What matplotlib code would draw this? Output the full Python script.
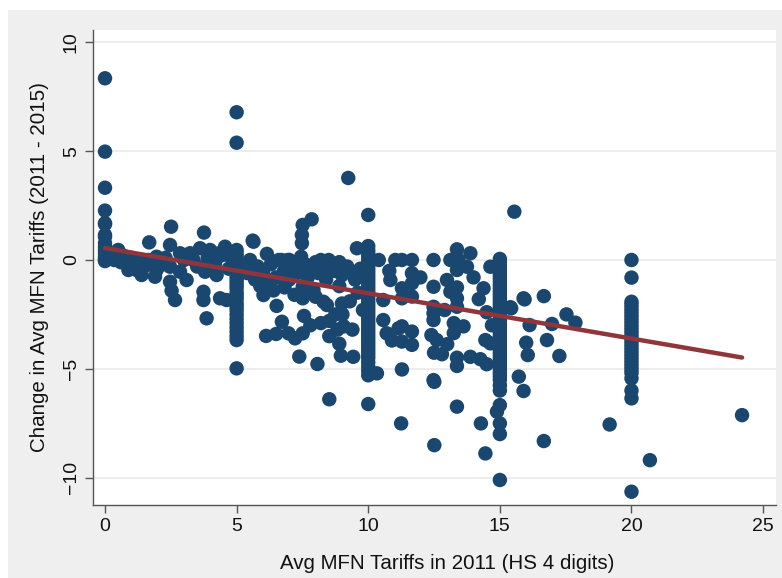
import numpy as np
import matplotlib
matplotlib.use("Agg")
import matplotlib.pyplot as plt
from matplotlib.patches import Rectangle

plt.rcParams['font.family'] = ['Liberation Sans', 'DejaVu Sans']

# vertical stacks of products sitting exactly on common tariff levels
col0_y = [8.35, 4.98, 3.32, 2.27, 1.69, 1.65, 1.15, 1.07, 0.77, 0.6, 0.45, 0.3, 0.15, 0.05, 0.0, -0.05]
col5_y = [6.79, 5.39, 0.46, 0.3, 0.15, 0.0, -0.1, -0.25, -0.4, -0.55, -0.7, -0.85, -1.0, -1.15, -1.3,
          -1.5, -1.65, -1.8, -2.0, -2.15, -2.3, -2.5, -2.7, -2.9, -3.1, -3.3, -3.5, -3.68, -4.98]
col10_y = [2.07, 0.64, 0.45, 0.3, 0.15, 0.0, -0.15, -0.3, -0.45, -0.6, -0.75, -0.9, -1.05, -1.2, -1.35,
           -1.5, -1.65, -1.8, -1.95, -2.1, -2.25, -2.4, -2.55, -2.7, -2.85, -3.0, -3.15, -3.3, -3.45,
           -3.6, -3.75, -3.9, -4.05, -4.2, -4.35, -4.5, -4.7, -4.9, -5.1, -5.3, -6.62]
col15_y = [0.05, -0.1, -0.25, -0.4, -0.55, -0.7, -0.85, -1.0, -1.15, -1.3, -1.45, -1.6, -1.75, -1.9,
           -2.05, -2.2, -2.35, -2.5, -2.65, -2.8, -2.95, -3.1, -3.25, -3.4, -3.55, -3.7, -3.85, -4.0,
           -4.15, -4.3, -4.45, -4.6, -4.75, -4.9, -5.05, -5.2, -5.35, -5.5, -5.76, -6.0, -6.67,
           -7.51, -8.0, -10.11]
col20_y = [0.0, -0.81, -1.92, -2.05, -2.2, -2.35, -2.5, -2.65, -2.8, -2.95, -3.1, -3.25, -3.4, -3.55,
           -3.7, -3.85, -4.0, -4.15, -4.3, -4.45, -4.6, -4.75, -4.9, -5.05, -5.2, -5.44, -6.0, -6.36,
           -10.65]

# everything else
other_x = [0.2, 0.35, 0.5, 0.45, 0.6, 0.82, 0.89, 1.0, 1.2, 1.27, 1.39, 1.65, 1.68, 1.96, 1.96, 1.9,
           2.2, 2.3, 2.47, 2.51, 2.47, 2.47, 2.53, 2.66, 2.85, 2.85, 3.1, 3.23, 3.36, 3.5, 3.61, 3.76,
           3.8, 3.74, 3.74, 3.86, 3.99, 4.0, 4.18, 4.24, 4.37, 4.56, 4.62, 4.4, 4.7, 1.5, 0.7, 3.0,
           3.9, 4.3, 4.8,
           5.51, 5.61, 5.64, 6.15, 6.02, 6.52, 6.72, 6.12, 6.97, 7.22, 7.51, 7.38, 8.07, 8.52, 7.48,
           7.48, 7.51, 7.85, 6.7, 6.95, 7.45, 7.51, 7.51, 6.82, 7.56, 7.92, 8.0, 8.3, 8.43, 8.52,
           8.75, 9.07, 9.4, 8.52, 8.83, 8.9, 8.96, 9.43, 9.02, 9.3, 9.57, 9.3, 9.24,
           5.8, 6.0, 6.3, 6.5, 6.6, 6.8, 7.0, 7.2, 7.3, 7.6, 7.7, 7.9, 8.0, 8.1, 8.3, 8.4, 8.6, 8.7,
           8.9, 9.0, 9.2, 9.5, 9.7, 6.2, 5.7, 8.2, 8.5, 7.0, 5.9, 6.4, 7.2, 8.9, 9.6, 9.8, 9.0, 5.3,
           5.4, 6.5, 7.8, 8.2,
           10.33, 10.57, 10.57, 10.7, 11.15, 11.03, 11.28, 11.66, 12.48, 13.12, 13.43, 13.75, 13.37,
           14.64, 11.66, 11.98, 14.0, 12.99, 10.84, 11.28, 11.66, 12.48, 13.37, 13.12, 14.38, 11.28,
           11.66, 13.37, 12.48, 12.9, 13.37, 12.48, 12.48, 13.25, 13.62, 11.28, 11.66, 11.28, 11.66,
           10.9, 13.25, 12.4, 12.6, 13.0, 12.5, 12.8, 13.37, 13.37, 13.88, 14.26, 14.5, 14.45, 14.64,
           11.28, 12.48, 13.37, 11.25, 12.51, 14.28, 14.45, 14.89, 12.51, 10.4, 10.8, 14.2, 14.5,
           14.7, 13.88, 13.37,
           15.55, 15.43, 15.94, 16.67, 16.13, 16.98, 17.53, 17.87, 16.0, 16.06, 16.79, 17.26, 15.72,
           15.9, 16.67, 19.17, 20.7, 24.2, 15.9, 15.4]
other_y = [0.1, 0.0, 0.46, 0.2, -0.1, -0.15, -0.46, 0.1, -0.46, 0.0, -0.69, 0.0, 0.81, 0.15, -0.46, -0.77,
           -0.2, 0.1, 0.69, 1.53, -0.31, -1.0, -1.41, -1.84, 0.31, -0.54, -0.92, 0.31, 0.0, -0.3, 0.54,
           1.26, -0.54, -1.46, -1.84, -2.68, 0.46, -0.2, -0.15, -0.69, -1.76, 0.61, -1.84, 0.2, -0.4,
           -0.3, 0.2, 0.0, 0.1, 0.3, 0.1,
           0.0, 0.89, 0.84, 0.28, -1.61, -2.11, -2.84, -3.49, -3.37, -3.6, -3.37, -4.44, -4.78, -6.4,
           1.15, 0.77, 1.61, 1.87, 0.0, 0.0, 0.15, -1.23, -1.76, -1.26, -2.57, -1.38, -1.69, -1.92,
           -2.07, -2.8, -2.5, -3.05, -3.2, -3.5, -3.2, -3.85, -4.4, -4.45, -2.5, -1.9, 0.54, -0.5, 3.77,
           -0.3, -0.6, -0.2, -0.8, 0.0, -0.5, -0.9, -0.3, -0.6, -0.2, -0.8, -0.4, -0.1, -0.6, -0.3,
           -0.9, -0.2, -0.5, -0.1, -0.7, -0.3, -0.9, -0.4, -1.0, -0.9, 0.0, 0.0, 0.0, -1.2, -1.4,
           -1.6, -1.2, -1.5, -2.3, -2.0, -0.3, -0.6, -3.4, -3.0, -2.9,
           -5.21, -1.84, -2.76, -3.37, -3.14, 0.0, 0.0, 0.0, 0.0, 0.0, 0.0, -0.31, -0.46, -0.31, -0.61,
           -0.8, -0.8, -0.92, -0.92, -1.3, -1.07, -1.23, -1.26, -1.46, -1.30, -1.76, -1.68, -1.76,
           -2.15, -2.3, -2.15, -2.45, -2.76, -2.9, -3.05, -3.05, -3.29, -3.75, -3.9, -3.7, -3.36,
           -3.45, -3.68, -3.87, -4.26, -4.33, -4.49, -4.87, -4.45, -4.56, -4.79, -3.68, -3.83, -5.03,
           -5.52, -6.74, -7.51, -8.51, -7.51, -8.89, -6.97, -5.6, 0.0, -0.5, -1.8, -2.4, -3.0, 0.31,
           0.49,
           2.22, -2.22, -1.81, -1.66, -2.99, -2.94, -2.5, -2.88, -3.8, -4.37, -3.68, -4.41, -5.36,
           -6.02, -8.32, -7.56, -9.2, -7.13, -1.76, -2.17]

# linear fit shown in the chart
fit_intercept = 0.55
fit_slope = -0.208

xs = (other_x + [0.0] * len(col0_y) + [5.0] * len(col5_y) + [10.0] * len(col10_y)
      + [15.0] * len(col15_y) + [20.0] * len(col20_y))
ys = other_y + col0_y + col5_y + col10_y + col15_y + col20_y
xs = np.array(xs)
ys = np.array(ys)

W, H = 782, 578
fig = plt.figure(figsize=(W / 100, H / 100), dpi=100, facecolor='white')
fig.patches.append(Rectangle((8 / W, 0), 1 - 8 / W, 1 - 10 / H, transform=fig.transFigure,
                             facecolor='#efefef', edgecolor='none', zorder=-1))

ax = fig.add_axes([93 / W, 1 - 505 / H, (776 - 93) / W, (505 - 30) / H])
ax.set_facecolor('white')

ax.scatter(xs, ys, s=108, color='#1a476f', edgecolors='none', zorder=3)

fx = np.array([xs.min(), xs.max()])
ax.plot(fx, fit_intercept + fit_slope * fx, color='#90353b', lw=3.2, solid_capstyle='round', zorder=4)

ax.set_xlim(-0.456, 25.49)
ax.set_ylim(-11.26, 10.57)
ax.set_xticks([0, 5, 10, 15, 20, 25])
ax.set_yticks([-10, -5, 0, 5, 10])
ax.yaxis.grid(True, color='#eaeaea', lw=1.2, zorder=0)
ax.set_axisbelow(True)

for side in ['top', 'right']:
    ax.spines[side].set_visible(False)
for side in ['left', 'bottom']:
    ax.spines[side].set_color('#555555')
    ax.spines[side].set_linewidth(1.0)

ax.tick_params(axis='both', direction='out', length=6, width=1, color='#555555',
               labelsize=14, labelcolor='#111111')
for lab in ax.get_yticklabels():
    lab.set_rotation(90)
    lab.set_va('center')

ax.set_xlabel('Avg MFN Tariffs in 2011 (HS 4 digits)', fontsize=14.8, color='#111111')
ax.xaxis.set_label_coords(0.518, -0.104)
ax.set_ylabel('Change in Avg MFN Tariffs (2011 - 2015)', fontsize=14.8, labelpad=10, color='#111111')

fig.savefig('out.png', dpi=100, facecolor=fig.get_facecolor())
